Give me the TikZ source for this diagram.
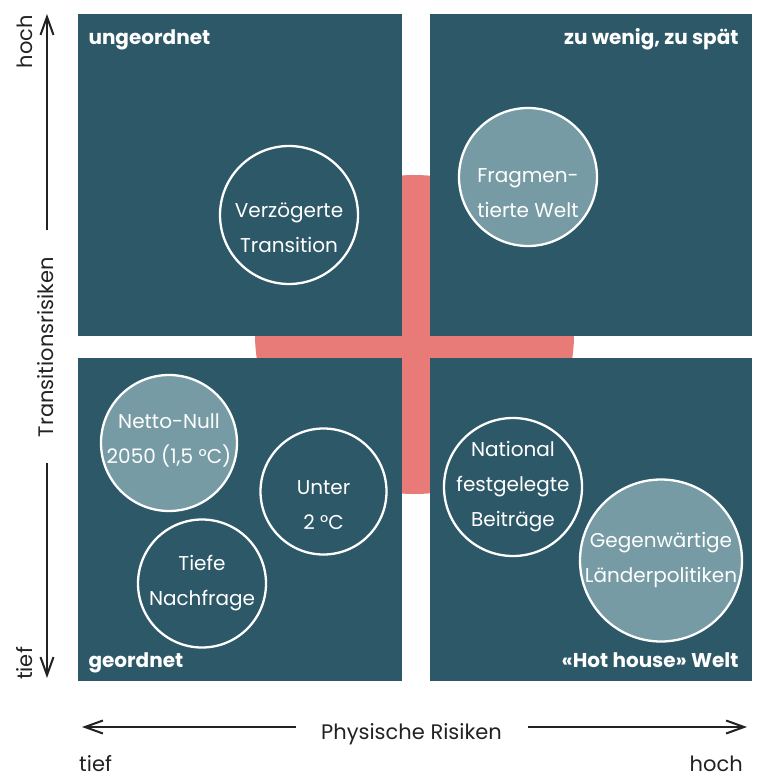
\documentclass[tikz,border=0pt]{standalone}
\usepackage{fontspec}
\setmainfont{Poppins}
\usetikzlibrary{arrows.meta,positioning,calc}

\definecolor{quadblue}{HTML}{2D5868}
\definecolor{scenfill}{HTML}{769BA4}
\definecolor{crossred}{HTML}{E87B77}
\definecolor{axisgray}{HTML}{222222}

\tikzset{
  quad/.style={fill=quadblue,inner sep=0pt,anchor=north west},
  scen/.style={circle,draw=white,line width=2.3pt,inner sep=0pt},
  scenlight/.style={scen,fill=scenfill},
  scentext/.style={text=white,align=center,font=\fontsize{20}{35}\selectfont},
  quadlabel/.style={text=white,font=\fontsize{20}{24}\selectfont\bfseries},
  axislabel/.style={text=axisgray,inner sep=0pt,font=\fontsize{21}{25}\selectfont},
  axisarrow/.style={draw=axisgray,line width=2pt,-{Straight Barb[length=18pt,width=13pt]}}
}

\begin{document}
\begin{tikzpicture}[x=1pt,y=-1pt]
\useasboundingbox (0,0) rectangle (778,776);

% Red disc behind the quadrants
\fill[crossred] (414.5,334.5) circle[radius=159.5pt];

% Quadrants
\node[quad,minimum width=324pt,minimum height=322pt] (ungeordnet) at (78,14) {};
\node[quad,minimum width=322pt,minimum height=322pt] (zuspaet) at (430,14) {};
\node[quad,minimum width=324pt,minimum height=323pt] (geordnet) at (78,358) {};
\node[quad,minimum width=322pt,minimum height=323pt] (hothouse) at (430,358) {};

% Quadrant titles
\node[quadlabel,anchor=base west] (lblung) at (85,45) {ungeordnet};
\node[quadlabel,anchor=base east] (lblzu) at (742,45) {zu wenig, zu spät};
\node[quadlabel,anchor=base west] (lblgeo) at (85,667) {geordnet};
\node[quadlabel,anchor=base east] (lblhot) at (742,667) {«Hot house» Welt};

% Scenario circles
\node[scen,minimum size=138pt] (verz) at (289,215) {};
\node[scentext] (verztxt) at (289,228) {Verzögerte\\Transition};

\node[scenlight,minimum size=138pt] (frag) at (528,177) {};
\node[scentext] (fragtxt) at (528,193) {Fragmen-\\tierte Welt};

\node[scenlight,minimum size=136pt] (netto) at (169,443) {};
\node[scentext] (nettotxt) at (169,440) {Netto-Null\\2050 (1,5 °C)};

\node[scen,minimum size=126pt] (unter) at (323.5,491.5) {};
\node[scentext] (untertxt) at (323.5,505) {Unter\\2 °C};

\node[scen,minimum size=128pt] (tiefe) at (202,583.5) {};
\node[scentext] (tiefetxt) at (202,583) {Tiefe\\Nachfrage};

\node[scen,minimum size=138pt] (ndc) at (513,487) {};
\node[scentext] (ndctxt) at (513,487) {National\\festgelegte\\Beiträge};

\node[scenlight,minimum size=162pt] (curpol) at (661,560.5) {};
\node[scentext] (curpoltxt) at (661,560) {Gegenwärtige\\Länderpolitiken};

% Vertical axis
\node[axislabel,rotate=90,anchor=base] (transrisk) at (53,347) {Transitionsrisiken};
\node[axislabel,rotate=90,anchor=base east] (yhochtxt) at (32,15) {hoch};
\node[axislabel,rotate=90,anchor=base west] (ytieftxt) at (32,680) {tief};
\coordinate (yupstart) at (47,230);
\coordinate (yhigh) at (47,14);
\coordinate (ydownstart) at (47,463);
\coordinate (ylow) at (47,678);
\draw[axisarrow] (yupstart) -- (yhigh);
\draw[axisarrow] (ydownstart) -- (ylow);

% Horizontal axis
\node[axislabel,anchor=base] (physrisk) at (411.5,739) {Physische Risiken};
\node[axislabel,anchor=base west] (xtieftxt) at (79,771) {tief};
\node[axislabel,anchor=base east] (xhochtxt) at (743,771) {hoch};
\coordinate (xleftstart) at (296,727);
\coordinate (xlow) at (82,727);
\coordinate (xrightstart) at (528,727);
\coordinate (xhigh) at (747,727);
\draw[axisarrow] (xleftstart) -- (xlow);
\draw[axisarrow] (xrightstart) -- (xhigh);
\end{tikzpicture}
\end{document}
